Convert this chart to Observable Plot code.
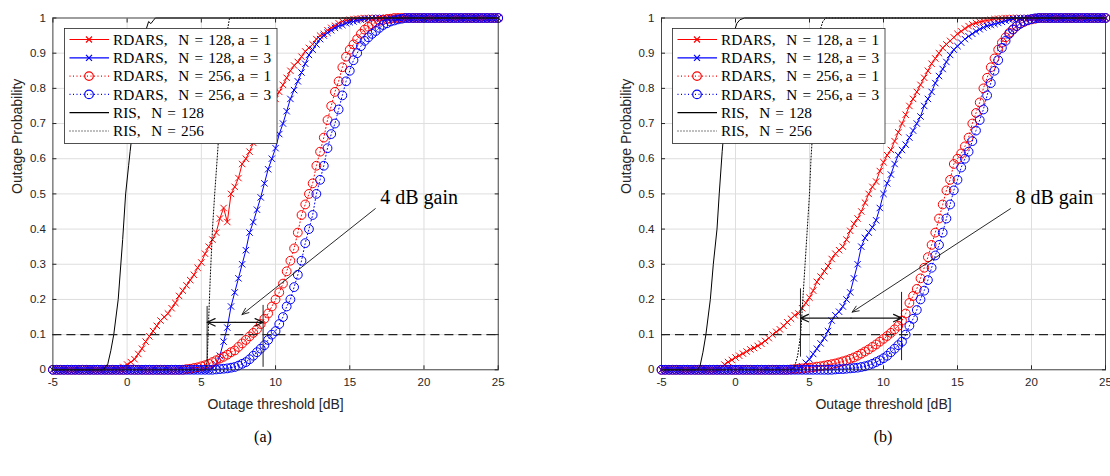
<!DOCTYPE html>
<html><head><meta charset="utf-8">
<script src="https://cdn.jsdelivr.net/npm/d3@7"></script>
<script src="https://cdn.jsdelivr.net/npm/@observablehq/plot@0.6"></script>
<style>
body{margin:0;background:#fff;}
#wrap{position:relative;width:1110px;height:476px;overflow:hidden;background:#fff;}
.panel{position:absolute;top:0;}
.caption{position:absolute;top:428px;font-family:"Liberation Serif",serif;font-size:16px;transform:translateX(-50%);color:#000;}
.legend{position:absolute;}
</style></head><body>
<div id="wrap">
 <div id="pa" class="panel" style="left:0"></div>
 <div id="pb" class="panel" style="left:555px"></div>
 <div id="la" class="legend" style="left:64px;top:28px"></div>
 <div id="lb" class="legend" style="left:671.5px;top:28px"></div>
 <div class="caption" style="left:263px">(a)</div>
 <div class="caption" style="left:883px">(b)</div>
</div>
<script>
// ---------- data ----------
const xTicks = [-5, 0, 5, 10, 15, 20, 25];
const yTicks = [0, 0.1, 0.2, 0.3, 0.4, 0.5, 0.6, 0.7, 0.8, 0.9, 1];
const outageTarget = 0.1;
const xLabel = "Outage threshold [dB]";
const yLabel = "Outage Probability";

// outage thresholds (dB) at which the RDARS curves are evaluated
const thresholds = [
 -5,-4.75,-4.5,-4.25,-4,-3.75,-3.5,-3.25,-3,-2.75,-2.5,-2.25,-2,-1.75,-1.5,-1.25,-1,-0.75,-0.5,-0.25,
 0,0.25,0.5,0.75,1,1.25,1.5,1.75,2,2.25,2.5,2.75,3,3.25,3.5,3.75,4,4.25,4.5,4.75,
 5,5.25,5.5,5.75,6,6.25,6.5,6.75,7,7.25,7.5,7.75,8,8.25,8.5,8.75,9,9.25,9.5,9.75,
 10,10.25,10.5,10.75,11,11.25,11.5,11.75,12,12.25,12.5,12.75,13,13.25,13.5,13.75,14,14.25,14.5,14.75,
 15,15.25,15.5,15.75,16,16.25,16.5,16.75,17,17.25,17.5,17.75,18,18.25,18.5,18.75,19,19.25,19.5,19.75,
 20,20.25,20.5,20.75,21,21.25,21.5,21.75,22,22.25,22.5,22.75,23,23.25,23.5,23.75,24,24.25,24.5,24.75,25];

// ----- panel (a) -----
const aRdars128a1 = [
 0,0,0,0,0,0,0,0,0,0,0,0,0,0,0,0,0,0,0.003,0.008,
 0.015,0.022,0.03,0.045,0.06,0.08,0.095,0.11,0.125,0.14,0.15,0.16,0.175,0.19,0.21,0.225,0.24,0.255,0.27,0.29,
 0.305,0.33,0.35,0.37,0.39,0.43,0.46,0.42,0.5,0.52,0.545,0.585,0.6,0.62,0.645,0.665,0.69,0.71,0.73,0.75,
 0.77,0.79,0.81,0.83,0.85,0.865,0.875,0.89,0.905,0.915,0.925,0.94,0.95,0.955,0.965,0.972,0.978,0.985,0.99,0.993,
 0.995,0.997,0.998,0.999,1,1,1,1,1,1,1,1,1,1,1,1,1,1,1,1,
 1,1,1,1,1,1,1,1,1,1,1,1,1,1,1,1,1,1,1,1,1];
const aRdars128a3 = [
 0,0,0,0,0,0,0,0,0,0,0,0,0,0,0,0,0,0,0,0,
 0,0,0,0,0,0,0,0,0,0,0,0,0,0,0,0,0,0,0,0,
 0,0,0,0.005,0.015,0.04,0.08,0.12,0.18,0.22,0.26,0.3,0.34,0.39,0.42,0.455,0.49,0.53,0.57,0.6,
 0.63,0.67,0.7,0.735,0.77,0.795,0.82,0.845,0.87,0.895,0.91,0.925,0.94,0.95,0.958,0.965,0.972,0.977,0.98,0.985,
 0.988,0.99,0.993,0.995,0.997,0.998,0.999,1,1,1,1,1,1,1,1,1,1,1,1,1,
 1,1,1,1,1,1,1,1,1,1,1,1,1,1,1,1,1,1,1,1,1];
const aRdars256a1 = [
 0,0,0,0,0,0,0,0,0,0,0,0,0,0,0,0,0,0,0,0,
 0,0,0,0,0,0,0,0,0,0,0,0,0,0,0,0,0.002,0.003,0.005,0.007,
 0.01,0.013,0.017,0.022,0.027,0.032,0.037,0.043,0.05,0.055,0.065,0.075,0.085,0.095,0.105,0.115,0.13,0.145,0.16,0.18,
 0.2,0.22,0.245,0.28,0.31,0.345,0.39,0.44,0.47,0.5,0.53,0.58,0.62,0.66,0.71,0.75,0.79,0.82,0.86,0.89,
 0.91,0.925,0.94,0.955,0.967,0.975,0.982,0.988,0.992,0.995,0.997,0.998,1,1,1,1,1,1,1,1,
 1,1,1,1,1,1,1,1,1,1,1,1,1,1,1,1,1,1,1,1,1];
const aRdars256a3 = [
 0,0,0,0,0,0,0,0,0,0,0,0,0,0,0,0,0,0,0,0,
 0,0,0,0,0,0,0,0,0,0,0,0,0,0,0,0,0,0,0,0,
 0,0,0,0,0.001,0.002,0.003,0.004,0.006,0.008,0.012,0.017,0.022,0.03,0.04,0.05,0.06,0.07,0.085,0.1,
 0.11,0.13,0.15,0.18,0.2,0.235,0.27,0.31,0.36,0.4,0.44,0.5,0.54,0.58,0.63,0.67,0.7,0.74,0.78,0.82,
 0.85,0.88,0.9,0.92,0.935,0.945,0.955,0.963,0.972,0.98,0.985,0.99,0.993,0.996,0.998,1,1,1,1,1,
 1,1,1,1,1,1,1,1,1,1,1,1,1,1,1,1,1,1,1,1,1];
const aRis128X = [-5,-1.6,-1.3,-1.1,-0.9,-0.6,-0.3,-0.1,0.1,0.2,0.5,0.8,1.1,1.3,1.45,1.6,1.75,1.9,25];
const aRis128Y = [0,0,0.017,0.054,0.1,0.2,0.37,0.5,0.58,0.62,0.73,0.84,0.93,0.97,0.99,0.984,0.992,1,1];
const aRis256X = [-5,5.3,5.4,5.5,5.6,5.75,5.9,6.1,6.3,6.5,6.7,6.9,25];
const aRis256Y = [0,0,0.03,0.15,0.26,0.4,0.5,0.62,0.75,0.87,0.95,1,1];
const aGainLabel = "4 dB gain";
const aGainX = [5.39, 9.16];          // thresholds compared
const aGainTop = [0.18, 0.183];
const aGainBottom = [0.022, 0.007];
const aGainArrowY = 0.135;
const aPointer = [16.72, 0.458, 7.74, 0.157]; // from (x,y) to (x,y)
const aLabelAt = [17.05, 0.49];

// ----- panel (b) -----
const bRdars128a1 = [
 0,0,0,0,0,0,0,0,0,0,0,0,0,0,0,0.002,0.005,0.015,0.022,0.028,
 0.035,0.04,0.046,0.052,0.058,0.062,0.068,0.074,0.082,0.09,0.1,0.108,0.115,0.125,0.135,0.145,0.155,0.16,0.175,0.19,
 0.205,0.225,0.25,0.265,0.28,0.295,0.315,0.33,0.34,0.35,0.37,0.395,0.415,0.43,0.45,0.475,0.5,0.52,0.535,0.565,
 0.59,0.61,0.625,0.65,0.675,0.7,0.725,0.75,0.77,0.79,0.81,0.83,0.85,0.87,0.885,0.9,0.915,0.925,0.935,0.945,
 0.955,0.962,0.97,0.977,0.982,0.986,0.989,0.991,0.993,0.995,0.997,0.998,0.999,1,1,1,1,1,1,1,
 1,1,1,1,1,1,1,1,1,1,1,1,1,1,1,1,1,1,1,1,1];
const bRdars128a3 = [
 0,0,0,0,0,0,0,0,0,0,0,0,0,0,0,0,0,0,0,0,
 0,0,0,0,0,0,0,0,0,0,0,0,0,0,0,0,0,0.003,0.01,0.02,
 0.03,0.045,0.06,0.075,0.09,0.11,0.14,0.155,0.165,0.18,0.2,0.22,0.26,0.3,0.35,0.375,0.39,0.405,0.425,0.46,
 0.5,0.53,0.555,0.585,0.61,0.625,0.64,0.66,0.68,0.7,0.72,0.75,0.77,0.79,0.815,0.835,0.855,0.875,0.895,0.91,
 0.92,0.93,0.94,0.948,0.955,0.962,0.968,0.973,0.977,0.98,0.983,0.986,0.989,0.992,0.995,0.997,0.999,1,1,1,
 1,1,1,1,1,1,1,1,1,1,1,1,1,1,1,1,1,1,1,1,1];
const bRdars256a1 = [
 0,0,0,0,0,0,0,0,0,0,0,0,0,0,0,0,0,0,0,0,
 0,0,0,0,0,0,0,0,0,0,0,0,0,0,0,0.001,0.002,0.003,0.004,0.005,
 0.006,0.007,0.009,0.01,0.012,0.014,0.016,0.018,0.021,0.024,0.027,0.031,0.035,0.04,0.046,0.052,0.058,0.065,0.072,0.08,
 0.088,0.096,0.105,0.115,0.125,0.14,0.16,0.19,0.21,0.23,0.26,0.29,0.32,0.355,0.39,0.43,0.47,0.51,0.54,0.585,
 0.6,0.615,0.635,0.66,0.7,0.73,0.76,0.8,0.83,0.86,0.885,0.91,0.93,0.945,0.958,0.968,0.977,0.984,0.989,0.993,
 0.996,0.998,1,1,1,1,1,1,1,1,1,1,1,1,1,1,1,1,1,1,1];
const bRdars256a3 = [
 0,0,0,0,0,0,0,0,0,0,0,0,0,0,0,0,0,0,0,0,
 0,0,0,0,0,0,0,0,0,0,0,0,0,0,0,0,0,0,0,0,
 0,0,0,0,0,0,0,0.001,0.002,0.002,0.003,0.004,0.005,0.006,0.008,0.01,0.013,0.017,0.022,0.027,
 0.033,0.04,0.05,0.06,0.07,0.08,0.1,0.125,0.145,0.17,0.2,0.225,0.255,0.29,0.325,0.355,0.39,0.43,0.47,0.51,
 0.54,0.575,0.6,0.62,0.65,0.68,0.71,0.74,0.78,0.815,0.85,0.88,0.915,0.935,0.955,0.967,0.977,0.984,0.99,0.994,
 0.997,0.999,1,1,1,1,1,1,1,1,1,1,1,1,1,1,1,1,1,1,1];
const bRis128X = [-5,-2.6,-2.4,-2.2,-2.0,-1.85,-1.7,-1.5,-1.25,-1.1,-0.9,-0.7,-0.5,-0.3,-0.1,0.1,0.3,0.6,25];
const bRis128Y = [0,0,0.01,0.05,0.1,0.15,0.2,0.3,0.4,0.5,0.62,0.72,0.82,0.9,0.96,0.985,0.995,1,1];
const bRis256X = [-5,3.8,4.0,4.2,4.4,4.55,4.7,4.85,5.0,5.1,5.25,5.4,5.55,5.75,5.9,6.1,25];
const bRis256Y = [0,0,0.01,0.04,0.1,0.2,0.3,0.4,0.5,0.6,0.7,0.8,0.9,0.97,0.99,1,1];
const bGainLabel = "8 dB gain";
const bGainX = [4.39, 11.22];
const bGainTop = [0.23, 0.22];
const bGainBottom = [0.036, 0.026];
const bGainArrowY = 0.147;
const bPointer = [18.58, 0.458, 7.88, 0.164];
const bLabelAt = [18.92, 0.49];

const legendLabels = [
 "RDARS,\u2002\u2009N\u2004=\u2004128,\u2009a\u2004=\u20041",
 "RDARS,\u2002\u2009N\u2004=\u2004128,\u2009a\u2004=\u20043",
 "RDARS,\u2002\u2009N\u2004=\u2004256,\u2009a\u2004=\u20041",
 "RDARS,\u2002\u2009N\u2004=\u2004256,\u2009a\u2004=\u20043",
 "RIS,\u2002\u2009N\u2004=\u2004128",
 "RIS,\u2002\u2009N\u2004=\u2004256"];

// ---------- styles ----------
const RED = "#ff0000", BLUE = "#0000ff", INK = "#262626";
const SANS = "Liberation Sans, Arial, sans-serif";
const styles = [
 {color: RED, symbol: "times", dash: null},
 {color: BLUE, symbol: "times", dash: null},
 {color: RED, symbol: "circle", dash: "1,2.5"},
 {color: BLUE, symbol: "circle", dash: "1,2.5"},
 {color: "#000", symbol: null, dash: null},
 {color: "#000", symbol: null, dash: "1,2"}
];

const onGrid = ys => thresholds.map((x, i) => ({x, y: ys[i]}));
const pairs = (xs, ys) => xs.map((x, i) => ({x, y: ys[i]}));

function panel(o) {
  const marks = [
    Plot.gridX(xTicks, {stroke: "#dedede", strokeOpacity: 1}),
    Plot.gridY(yTicks, {stroke: "#dedede", strokeOpacity: 1})
  ];
  o.rdars.forEach((ys, k) => {
    const d = onGrid(ys), s = styles[k];
    marks.push(Plot.line(d, {x: "x", y: "y", stroke: s.color, strokeWidth: 1, strokeDasharray: s.dash}));
    marks.push(Plot.dot(d, {x: "x", y: "y", stroke: s.color, fill: "none", symbol: s.symbol,
      r: s.symbol === "times" ? 3 : 4.4, strokeWidth: 1}));
  });
  o.ris.forEach(([xs, ys], k) => {
    marks.push(Plot.line(pairs(xs, ys), {x: "x", y: "y", stroke: "#000", strokeWidth: 1, strokeDasharray: styles[4 + k].dash}));
  });
  marks.push(Plot.ruleY([outageTarget], {stroke: "#222", strokeWidth: 1.3, strokeDasharray: "9,5"}));
  const bars = o.gainX.map((x, i) => ({x, y1: o.gainBottom[i], y2: o.gainTop[i]}));
  marks.push(Plot.ruleX(bars, {x: "x", y1: "y1", y2: "y2", stroke: "#222", strokeWidth: 1}));
  const mid = (o.gainX[0] + o.gainX[1]) / 2;
  const dbl = o.gainX.map(x => ({x1: mid, x2: x, y: o.arrowY}));
  marks.push(Plot.arrow(dbl, {x1: "x1", x2: "x2", y1: "y", y2: "y", stroke: "#111", strokeWidth: 1.2, headLength: 11, headAngle: 50}));
  marks.push(Plot.arrow([o.pointer], {x1: d => d[0], y1: d => d[1], x2: d => d[2], y2: d => d[3],
    stroke: "#111", strokeWidth: 0.9, headLength: 12, headAngle: 45}));
  marks.push(Plot.text([o.label], {x: () => o.labelAt[0], y: () => o.labelAt[1], text: d => d,
    textAnchor: "start", fontFamily: "Liberation Serif, serif", fontSize: 20, fill: "#000"}));
  marks.push(Plot.frame({stroke: INK, strokeWidth: 0.8}));
  marks.push(Plot.axisX(xTicks, {anchor: "bottom", tickSize: -4, tickPadding: 12, tickFormat: d => String(d), label: null, fill: INK}));
  marks.push(Plot.axisX(xTicks, {anchor: "top", tickSize: -4, tickFormat: () => "", label: null}));
  marks.push(Plot.axisY(yTicks, {anchor: "left", tickSize: -4, tickPadding: 11, tickFormat: d => String(d), label: null, fill: INK}));
  marks.push(Plot.axisY(yTicks, {anchor: "right", tickSize: -4, tickFormat: () => "", label: null}));
  marks.push(Plot.text([xLabel], {frameAnchor: "bottom", dy: 39.5, text: d => d, fontSize: 14, fontFamily: SANS, fill: INK}));
  marks.push(Plot.text([yLabel], {frameAnchor: "left", dx: -35, rotate: -90, text: d => d, fontSize: 14, fontFamily: SANS, fill: INK}));
  return Plot.plot({
    width: 555, height: 420,
    marginTop: 17.5, marginBottom: 50.7, marginLeft: o.marginLeft, marginRight: o.marginRight,
    x: {domain: [-5, 25]}, y: {domain: [0, 1]},
    style: {fontFamily: SANS, fontSize: "11.5px", color: INK, background: "transparent", overflow: "visible"},
    marks
  });
}

document.getElementById("pa").append(panel({
  rdars: [aRdars128a1, aRdars128a3, aRdars256a1, aRdars256a3],
  ris: [[aRis128X, aRis128Y], [aRis256X, aRis256Y]],
  gainX: aGainX, gainTop: aGainTop, gainBottom: aGainBottom, arrowY: aGainArrowY,
  pointer: aPointer, label: aGainLabel, labelAt: aLabelAt,
  marginLeft: 52.4, marginRight: 57.3
}));
document.getElementById("pb").append(panel({
  rdars: [bRdars128a1, bRdars128a3, bRdars256a1, bRdars256a3],
  ris: [[bRis128X, bRis128Y], [bRis256X, bRis256Y]],
  gainX: bGainX, gainTop: bGainTop, gainBottom: bGainBottom, arrowY: bGainArrowY,
  pointer: bPointer, label: bGainLabel, labelAt: bLabelAt,
  marginLeft: 106, marginRight: 5
}));

function legend(el) {
  const W = 212.5, H = 115;
  const svg = d3.select(el).append("svg").attr("width", W + 2).attr("height", H + 2);
  svg.append("rect").attr("x", 0.5).attr("y", 0.5).attr("width", W).attr("height", H)
    .attr("fill", "#fff").attr("stroke", INK).attr("stroke-width", 0.8);
  legendLabels.forEach((lab, i) => {
    const s = styles[i], cy = 11.5 + i * 18.3;
    svg.append("line").attr("x1", 5.5).attr("x2", 45).attr("y1", cy).attr("y2", cy)
      .attr("stroke", s.color).attr("stroke-width", 1.2).attr("stroke-dasharray", s.dash);
    if (s.symbol === "times") {
      svg.append("path").attr("d", `M${25 - 3},${cy - 3}L${25 + 3},${cy + 3}M${25 - 3},${cy + 3}L${25 + 3},${cy - 3}`)
        .attr("stroke", s.color).attr("stroke-width", 1.2);
    } else if (s.symbol === "circle") {
      svg.append("circle").attr("cx", 25).attr("cy", cy).attr("r", 4.3).attr("fill", "none")
        .attr("stroke", s.color).attr("stroke-width", 1.2);
    }
    svg.append("text").attr("x", 49).attr("y", cy).attr("dy", "0.35em")
      .attr("font-family", "Liberation Serif, serif").attr("font-size", 15.25).attr("fill", "#000").text(lab);
  });
}
legend(document.getElementById("la"));
legend(document.getElementById("lb"));
</script>
</body></html>
